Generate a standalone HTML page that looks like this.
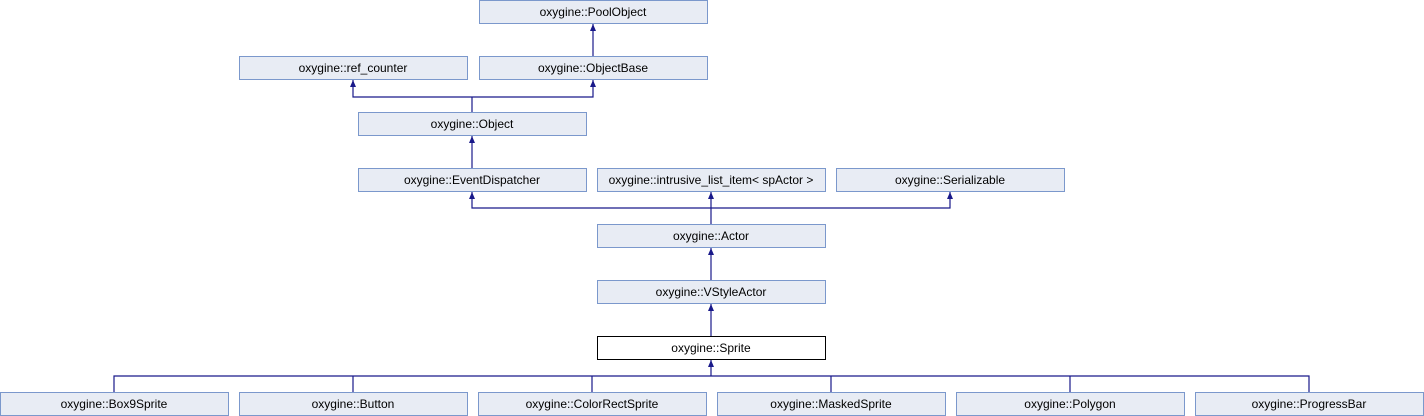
<!DOCTYPE html>
<html><head><meta charset="utf-8"><style>
html,body{margin:0;padding:0;background:#fff;}
svg{display:block;}
text{font-family:"Liberation Sans",sans-serif;font-size:12px;fill:#000;text-anchor:middle;}
.b{fill:#e8ecf4;stroke:#7b98cc;stroke-width:1;}
.w{fill:#fff;stroke:#000;stroke-width:1;}
.l{stroke:#19198a;stroke-width:1.2;fill:none;}
.a{fill:#19198a;}
</style></head><body>
<svg width="1424" height="416" xmlns="http://www.w3.org/2000/svg">
<!-- connectors -->
<g class="l">
<path d="M593 56V24"/>
<path d="M472 112V97H353V80M472 97H593V80"/>
<path d="M472 168V136"/>
<path d="M711 224V208H472V192M711 208V192M711 208H950V192"/>
<path d="M711 280V248"/>
<path d="M711 336V304"/>
<path d="M114 392V376H1309V392M353 376V392M592 376V392M831 376V392M1070 376V392M711 376V360"/>
</g>
<g class="a">
<path d="M593 24l-3 7h6z"/>
<path d="M353 80l-3 7h6z"/>
<path d="M593 80l-3 7h6z"/>
<path d="M472 136l-3 7h6z"/>
<path d="M472 192l-3 7h6z"/>
<path d="M711 192l-3 7h6z"/>
<path d="M950 192l-3 7h6z"/>
<path d="M711 248l-3 7h6z"/>
<path d="M711 304l-3 7h6z"/>
<path d="M711 360l-3 7h6z"/>
</g>
<!-- boxes -->
<rect class="b" x="479.5" y="0.5" width="228" height="23"/><text x="593" y="16">oxygine::PoolObject</text>
<rect class="b" x="239.5" y="56.5" width="228" height="23"/><text x="353" y="72">oxygine::ref_counter</text>
<rect class="b" x="479.5" y="56.5" width="228" height="23"/><text x="593" y="72">oxygine::ObjectBase</text>
<rect class="b" x="358.5" y="112.5" width="228" height="23"/><text x="472" y="128">oxygine::Object</text>
<rect class="b" x="358.5" y="168.5" width="228" height="23"/><text x="472" y="184">oxygine::EventDispatcher</text>
<rect class="b" x="597.5" y="168.5" width="228" height="23"/><text x="711" y="184">oxygine::intrusive_list_item&lt; spActor &gt;</text>
<rect class="b" x="836.5" y="168.5" width="228" height="23"/><text x="950" y="184">oxygine::Serializable</text>
<rect class="b" x="597.5" y="224.5" width="228" height="23"/><text x="711" y="240">oxygine::Actor</text>
<rect class="b" x="597.5" y="280.5" width="228" height="23"/><text x="711" y="296">oxygine::VStyleActor</text>
<rect class="w" x="597.5" y="336.5" width="228" height="23"/><text x="711" y="352">oxygine::Sprite</text>
<rect class="b" x="0.5" y="392.5" width="228" height="23"/><text x="114" y="408">oxygine::Box9Sprite</text>
<rect class="b" x="239.5" y="392.5" width="228" height="23"/><text x="353" y="408">oxygine::Button</text>
<rect class="b" x="478.5" y="392.5" width="228" height="23"/><text x="592" y="408">oxygine::ColorRectSprite</text>
<rect class="b" x="717.5" y="392.5" width="228" height="23"/><text x="831" y="408">oxygine::MaskedSprite</text>
<rect class="b" x="956.5" y="392.5" width="228" height="23"/><text x="1070" y="408">oxygine::Polygon</text>
<rect class="b" x="1195.5" y="392.5" width="228" height="23"/><text x="1309" y="408">oxygine::ProgressBar</text>
</svg>
</body></html>
